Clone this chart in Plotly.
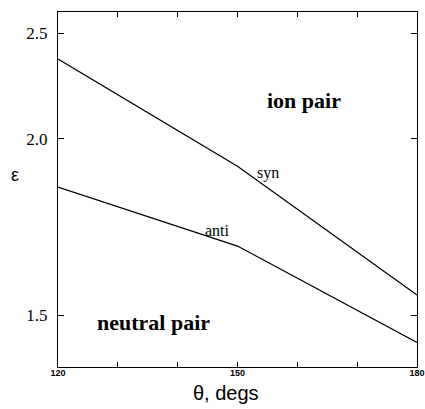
import plotly.graph_objects as go

# Data (epsilon vs theta)
theta = [120, 150, 180]
syn_eps = [2.357, 1.902, 1.544]
anti_eps = [1.833, 1.663, 1.444]

ytick_eps = [2.5, 2.0, 1.5]
ytick_text = ["2.5", "2.0", "1.5"]
xtick_vals = [120, 130, 140, 150, 160, 170, 180]
xtick_text = ["<b>120</b>", "", "", "<b>150</b>", "", "", "<b>180</b>"]

# axis is reciprocal in epsilon
inv = lambda arr: [1.0 / v for v in arr]

fig = go.Figure()
for eps in (syn_eps, anti_eps):
    fig.add_trace(go.Scatter(x=theta, y=inv(eps), mode="lines",
                             line=dict(color="black", width=1.3),
                             showlegend=False, hoverinfo="skip"))

serif = "Liberation Serif, Times New Roman, serif"
sans = "Liberation Sans, Arial, sans-serif"

fig.update_xaxes(range=[120, 180], tickmode="array", tickvals=xtick_vals,
                 ticktext=xtick_text, ticks="inside", ticklen=5,
                 tickcolor="black", showline=True, linecolor="black",
                 linewidth=1, mirror="ticks", showgrid=False, zeroline=False,
                 tickfont=dict(family=sans, size=9, color="black"),
                 ticklabelstandoff=-3, automargin=False)
fig.update_yaxes(range=[1 / 1.397, 1 / 2.633], tickmode="array",
                 tickvals=inv(ytick_eps), ticktext=ytick_text,
                 ticks="inside", ticklen=6, tickcolor="black",
                 showline=True, linecolor="black", linewidth=1,
                 mirror="ticks", showgrid=False, zeroline=False,
                 tickfont=dict(family=serif, size=17, color="black"),
                 ticklabelstandoff=6, automargin=False)

ann = [
    dict(text="<b>ion pair</b>", x=161.1, y=1 / 2.159, font=dict(family=serif, size=22)),
    dict(text="<b>neutral pair</b>", x=136.0, y=1 / 1.485, font=dict(family=serif, size=22)),
    dict(text="syn", x=155.1, y=1 / 1.879, font=dict(family=serif, size=16)),
    dict(text="anti", x=146.6, y=1 / 1.706, font=dict(family=serif, size=16)),
]
for a in ann:
    fig.add_annotation(xref="x", yref="y", showarrow=False,
                       xanchor="center", yanchor="middle",
                       **{k: v for k, v in a.items()})
    fig.layout.annotations[-1].font.color = "black"

fig.add_annotation(text="θ, degs", xref="paper", yref="paper",
                   x=0.468, y=-0.036, xanchor="center", yanchor="top",
                   showarrow=False, font=dict(family=sans, size=20, color="black"))
fig.add_annotation(text="ε", xref="paper", yref="paper",
                   x=-0.12, y=0.54, xanchor="center", yanchor="middle",
                   showarrow=False, font=dict(family=sans, size=18, color="black"))

fig.update_layout(width=425, height=409,
                  margin=dict(l=58, r=8, t=12, b=42, autoexpand=False),
                  plot_bgcolor="white", paper_bgcolor="white")

fig.write_html("out.html", config={"displayModeBar": False},
               post_script="document.body.style.margin='0';")
